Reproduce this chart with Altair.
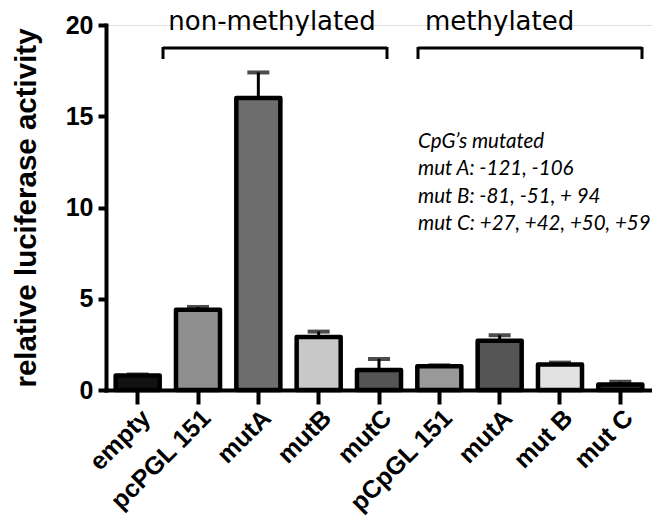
import json
import altair as alt
import pandas as pd

labels = ["empty", "pcPGL 151", "mutA", "mutB", "mutC", "pCpGL 151", "mutA", "mut B", "mut C"]
values = [0.8, 4.4, 16.0, 2.9, 1.1, 1.3, 2.7, 1.4, 0.3]
err_top = [0.85, 4.55, 17.4, 3.2, 1.7, 1.35, 3.0, 1.5, 0.45]
fills = ["#111111", "#8f8f8f", "#6d6d6d", "#c8c8c8", "#555555", "#999999", "#555555", "#e2e2e2", "#333333"]
y_ticks = [0, 5, 10, 15, 20]
group_labels = ["non-methylated", "methylated"]
note_lines = ["CpG\u2019s mutated", "mut A: -121, -106", "mut B: -81, -51, + 94", "mut C: +27, +42, +50, +59"]

df = pd.DataFrame({"id": list(range(len(labels))), "value": values, "top": err_top, "fill": fills})

FONT = "Liberation Sans"
label_expr = json.dumps(labels) + "[datum.value]"

x = alt.X("id:O", sort=None,
          scale=alt.Scale(paddingInner=0.27, paddingOuter=0.16),
          axis=alt.Axis(title=None, labelExpr=label_expr, labelAngle=-45,
                        labelFont=FONT, labelFontSize=25, labelFontWeight="bold",
                        labelColor="black", labelPadding=1,
                        tickSize=14, tickWidth=4, tickColor="black",
                        domainWidth=4, domainColor="black", domainCap="square"))
y = alt.Y("value:Q", scale=alt.Scale(domain=[0, 20], nice=False),
          axis=alt.Axis(title="relative luciferase activity", values=y_ticks,
                        titleFont=FONT, titleFontSize=29.5, titleFontWeight="bold",
                        titleColor="black", titlePadding=24,
                        labelFont=FONT, labelFontSize=25, labelFontWeight="bold",
                        labelColor="black", labelPadding=5,
                        tickSize=8, tickWidth=4, tickColor="black",
                        domainWidth=4, domainColor="black", domainCap="square",
                        grid=False))

base = alt.Chart(df)
err_rule = base.mark_rule(color="black", strokeWidth=3).encode(x=x, y=y, y2="top:Q")
err_cap = base.mark_tick(color="black", thickness=4, size=22).encode(x=x, y=alt.Y("top:Q"))
bars = base.mark_bar(stroke="black", strokeWidth=4.5, strokeJoin="round").encode(
    x=x, y=y, fill=alt.Fill("fill:N", scale=None))

one = pd.DataFrame({"k": [0]})

def hline(x1, x2, yy):
    return alt.Chart(one).mark_rule(color="black", strokeWidth=3).encode(
        x=alt.value(x1), x2=alt.value(x2), y=alt.value(yy))

def vline(xx, y1, y2):
    return alt.Chart(one).mark_rule(color="black", strokeWidth=3).encode(
        x=alt.value(xx), y=alt.value(y1), y2=alt.value(y2))

brackets = [
    hline(57, 281, 23), vline(57, 22, 34), vline(281, 22, 34),
    hline(312, 536, 23), vline(312, 22, 34), vline(536, 22, 34),
]

def text(t, xx, yy, align="left", size=26, italic=False, font="DejaVu Sans"):
    return alt.Chart(pd.DataFrame({"t": [t]})).mark_text(
        align=align, baseline="alphabetic", font=font, fontSize=size,
        fontStyle="italic" if italic else "normal", color="black").encode(
        x=alt.value(xx), y=alt.value(yy), text="t:N")

texts = [
    text(group_labels[0], 166, 5, align="center"),
    text(group_labels[1], 319, 5, align="left"),
]
note_y = [123, 150, 178, 205]
for line, yy in zip(note_lines, note_y):
    texts.append(text(line, 312, yy, size=20.5, italic=True, font="Lato"))

chart = alt.layer(err_rule, err_cap, bars, *brackets, *texts).properties(
    width=546, height=365,
    autosize=alt.AutoSizeParams(type="none"),
    padding={"left": 98, "top": 17, "right": 0, "bottom": 134},
).configure_view(stroke=None).configure(background="white")

chart.save("out.html", embed_options={"renderer": "svg", "actions": False})
